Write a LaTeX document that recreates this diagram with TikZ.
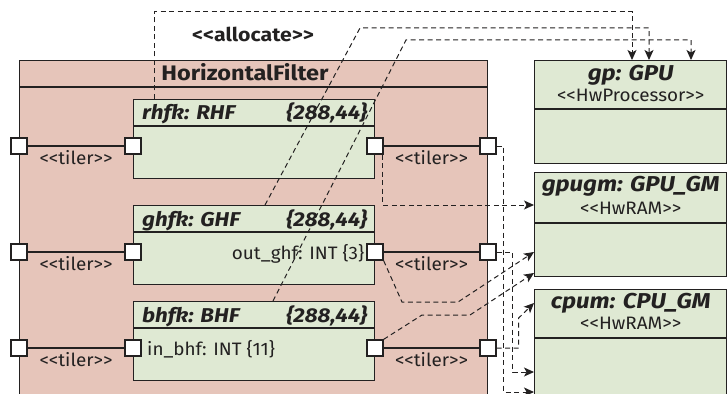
\documentclass[tikz,border=0pt]{standalone}
\usepackage{fontspec}
\setmainfont{Fira Sans}[FakeStretch=1.05]
\newfontfamily\widebold{Fira Sans}[FakeStretch=1.12]
\usetikzlibrary{arrows.meta,calc}
\definecolor{hfpink}{RGB}{230,197,186}
\definecolor{partgreen}{RGB}{223,233,211}
\definecolor{ink}{RGB}{35,33,33}
\newcommand{\stereo}[1]{<\kern0pt<#1>\kern0pt>}
\begin{document}
\begin{tikzpicture}[x=1pt,y=-1pt,
  frame/.style={draw=ink, line width=1.4pt, inner sep=0pt, anchor=north west},
  part/.style={frame, fill=partgreen, minimum width=241pt, minimum height=79pt},
  hw/.style={frame, fill=partgreen, minimum width=192pt},
  port/.style={draw=ink, line width=1.3pt, fill=white, minimum size=16pt, inner sep=0pt},
  conn/.style={draw=ink, line width=1.3pt},
  alloc/.style={draw=ink, line width=1pt, dash pattern=on 5pt off 3.5pt},
  tip/.style={-{Stealth[length=10pt,width=9pt,inset=2.5pt]}},
  ttl/.style={font=\widebold\fontsize{20}{23}\selectfont\bfseries\itshape, text=ink, inner sep=0pt},
  hwttl/.style={font=\widebold\fontsize{21.5}{25}\selectfont\bfseries\itshape, text=ink, inner sep=0pt, anchor=base},
  lbl/.style={font=\fontsize{18}{21}\selectfont, text=ink, inner sep=0pt},
]
\clip (0,0) rectangle (727,393);
% outer structured class
\node[frame, fill=hfpink, minimum width=468pt, minimum height=360pt] (hf) at (19,60) {};
\draw[conn] ($(hf.north west)+(0,27)$) -- ($(hf.north east)+(0,27)$);
\node[font=\widebold\fontsize{21}{25}\selectfont\bfseries, text=ink, inner sep=0pt, anchor=base] (hft) at (245,81) {HorizontalFilter};
% parts
\node[part] (rhfk) at (133,99) {};
\node[part] (ghfk) at (133,205) {};
\node[part] (bhfk) at (133,301) {};
\foreach \p in {rhfk,ghfk,bhfk}{
  \draw[conn] ($(\p.north west)+(0,27)$) -- ($(\p.north east)+(0,27)$);
}
\node[ttl, anchor=base west] (rhfkn) at ($(rhfk.north west)+(9,21)$) {rhfk: RHF};
\node[ttl, anchor=base east] (rhfkd) at ($(rhfk.north east)+(-8,21)$) {\{288,44\}};
\node[ttl, anchor=base west] (ghfkn) at ($(ghfk.north west)+(9,21)$) {ghfk: GHF};
\node[ttl, anchor=base east] (ghfkd) at ($(ghfk.north east)+(-8,21)$) {\{288,44\}};
\node[ttl, anchor=base west] (bhfkn) at ($(bhfk.north west)+(9,21)$) {bhfk: BHF};
\node[ttl, anchor=base east] (bhfkd) at ($(bhfk.north east)+(-8,21)$) {\{288,44\}};
\node[lbl, anchor=base east] (outg) at ($(ghfk.north east)+(-11,54)$) {out\_ghf: INT \{3\}};
\node[lbl, anchor=base west] (inb) at ($(bhfk.north west)+(14,54)$) {in\_bhf: INT \{11\}};
% hardware
\node[hw, minimum height=103pt] (gp) at (534,60) {};
\node[hw, minimum height=104pt] (gpugm) at (534,172) {};
\node[hw, minimum height=120pt] (cpum) at (534,289) {};
\draw[conn] ($(gp.north west)+(0,49)$) -- ($(gp.north east)+(0,49)$);
\draw[conn] ($(gpugm.north west)+(0,51)$) -- ($(gpugm.north east)+(0,51)$);
\draw[conn] ($(cpum.north west)+(0,49)$) -- ($(cpum.north east)+(0,49)$);
\node[hwttl] (gpn) at ($(gp.north)+(0,21)$) {gp: GPU};
\node[lbl, anchor=base] (gps) at ($(gp.north)+(0,42)$) {\stereo{HwProcessor}};
\node[hwttl] (gpugmn) at ($(gpugm.north)+(0,19)$) {gpugm: GPU\_GM};
\node[lbl, anchor=base] (gpugms) at ($(gpugm.north)+(0,42)$) {\stereo{HwRAM}};
\node[hwttl] (cpumn) at ($(cpum.north)+(0,19)$) {cpum: CPU\_GM};
\node[lbl, anchor=base] (cpums) at ($(cpum.north)+(0,40)$) {\stereo{HwRAM}};
% ports
\foreach \r/\y in {1/146,2/252,3/348}{
  \node[port] (pl\r) at (19,\y) {};
  \node[port] (pi\r) at (133,\y) {};
  \node[port] (pr\r) at (375,\y) {};
  \node[port] (po\r) at (488,\y) {};
  \draw[conn] (pl\r.east) -- (pi\r.west);
  \draw[conn] (pr\r.east) -- (po\r.west);
  \node[lbl, anchor=base] (tl\r) at ($(pl\r)!0.5!(pi\r)+(0,18.5)$) {\stereo{tiler}};
  \node[lbl, anchor=base] (tr\r) at ($(pr\r)!0.5!(po\r)+(0,18.5)$) {\stereo{tiler}};
}
% allocations
\node[font=\widebold\fontsize{19}{22}\selectfont\bfseries, text=ink, inner sep=0pt, anchor=base] (alloclbl) at (253,42) {\stereo{allocate}};
\coordinate (k2) at (360,28);
\coordinate (k3) at (406,40);
\coordinate (k5a) at (402,302);
\coordinate (k5b) at (458,302);
\coordinate (k6a) at (422,315);
\coordinate (k6b) at (470,315);
\draw[alloc, tip] ($(rhfk.north west)+(21,0)$) -- ++(0,-87) -| ($(gp.north west)+(98,0)$);
\draw[alloc, tip] ($(ghfk.north west)+(132,0)$) -- (k2) -| ($(gp.north west)+(115,0)$);
\draw[alloc, tip] ($(bhfk.north west)+(140,0)$) -- (k3) -| ($(gp.north west)+(157,0)$);
\draw[alloc, tip] ($(pr1.south east)+(-1,0)$) |- ($(gpugm.north west)+(0,33)$);
\draw[alloc, tip] (po1.east) -- ++(7,0) |- ($(cpum.north west)+(0,103)$);
\draw[alloc, tip] (po2.east) -- ++(16,0) |- ($(cpum.north west)+(0,83)$);
\draw[alloc, tip] (po3.east) -- ++(22,0) -- ++(0,-30) -- ($(cpum.north west)+(0,14)$);
\draw[alloc, tip] (pr2.south east) -- (k5a) -- (k5b) -- ($(gpugm.north west)+(0,80)$);
\draw[alloc, tip] (pr3.north east) -- (k6a) -- (k6b) -- ($(gpugm.north west)+(0,101)$);
\end{tikzpicture}
\end{document}
